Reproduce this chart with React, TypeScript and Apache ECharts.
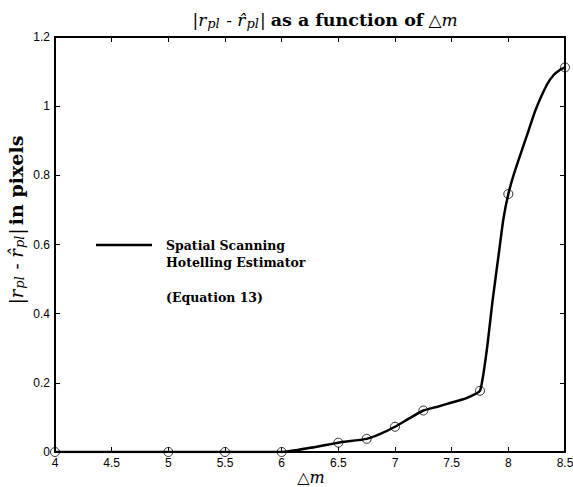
import React, { useEffect, useRef } from "react";
import * as echarts from "echarts";

const curveX = [4, 4.5, 5, 5.5, 6, 6.25, 6.5, 6.75, 6.875, 7, 7.125, 7.25, 7.375, 7.5, 7.625, 7.75, 7.81, 7.862, 7.92, 7.955, 8, 8.06, 8.18, 8.24, 8.34, 8.4, 8.46, 8.5];
const curveY = [0, 0, 0, 0, 0, 0.012, 0.027, 0.038, 0.053, 0.073, 0.097, 0.12, 0.131, 0.143, 0.155, 0.177, 0.295, 0.44, 0.584, 0.671, 0.746, 0.815, 0.931, 0.989, 1.062, 1.09, 1.106, 1.112];
const markerX = [4, 5, 5.5, 6, 6.5, 6.75, 7, 7.25, 7.75, 8, 8.5];
const markerY = [0, 0, 0, 0, 0.027, 0.038, 0.073, 0.12, 0.177, 0.746, 1.112];
const legendLines = ["Spatial Scanning", "Hotelling Estimator", "", "(Equation 13)"];

const serif = "DejaVu Serif";
const sans = "Liberation Sans";

export default function App() {
  const ref = useRef<HTMLDivElement>(null);
  useEffect(() => {
    const chart = echarts.init(ref.current!, null, { renderer: "svg" });
    const mk = (size: number, sub: number, bold: number, subPad: number) => ({
      n: { fontFamily: serif, fontWeight: "normal", fontSize: size, color: "#000" },
      i: { fontFamily: serif, fontWeight: "normal", fontStyle: "italic", fontSize: size, color: "#000" },
      s: { fontFamily: serif, fontWeight: "normal", fontStyle: "italic", fontSize: sub, color: "#000", padding: [subPad, 1, 0, 1] },
      b: { fontFamily: serif, fontWeight: "bold", fontSize: bold, color: "#000" },
    });
    const axisCommon = {
      axisLine: { show: true, onZero: false, lineStyle: { color: "#000", width: 2 } },
      axisTick: { show: true, inside: true, length: 5, lineStyle: { color: "#000", width: 1 } },
      splitLine: { show: false },
    };
    chart.setOption({
      animation: false,
      backgroundColor: "#fff",
      title: {
        text: "{n||}{i|r}{s|pl}{n| - }{i|r̂}{s|pl}{n||} {b|as a function of} {n|△}{i|m}",
        left: 320,
        textAlign: "center",
        top: 5,
        textStyle: { rich: mk(17, 13, 17.5, 7) },
      },
      grid: { left: 55, right: 8, top: 37, bottom: 35, containLabel: false, outerBoundsMode: "none" },
      xAxis: [
        {
          type: "value",
          min: 4,
          max: 8.5,
          interval: 0.5,
          position: "bottom",
          ...axisCommon,
          axisLabel: { color: "#000", fontFamily: sans, fontSize: 12, margin: 5 },
        },
        {
          type: "value",
          min: 4,
          max: 8.5,
          interval: 0.5,
          position: "top",
          ...axisCommon,
          axisLabel: { show: false },
        },
      ],
      yAxis: [
        {
          type: "value",
          min: 0,
          max: 1.2,
          interval: 0.2,
          position: "left",
          ...axisCommon,
          axisLabel: { color: "#000", fontFamily: sans, fontSize: 12, margin: 5 },
        },
        {
          type: "value",
          min: 0,
          max: 1.2,
          interval: 0.2,
          position: "right",
          ...axisCommon,
          axisLabel: { show: false },
        },
      ],
      series: [
        {
          type: "line",
          data: curveX.map((x, k) => [x, curveY[k]]),
          smooth: 0.15,
          showSymbol: false,
          lineStyle: { color: "#000", width: 2.5 },
          z: 3,
        },
        {
          type: "scatter",
          data: markerX.map((x, k) => [x, markerY[k]]),
          symbol: "circle",
          symbolSize: 9,
          itemStyle: { color: "transparent", borderColor: "#000", borderWidth: 1 },
          z: 4,
        },
      ],
      graphic: [
        {
          type: "text",
          x: 16,
          y: 220,
          rotation: Math.PI / 2,
          style: {
            text: "{n||}{i|r}{s|pl}{n| - }{i|r̂}{s|pl}{n||} {b|in pixels}",
            align: "center",
            verticalAlign: "middle",
            rich: mk(18, 13, 19, 7),
          },
        },
        {
          type: "text",
          x: 311,
          y: 477,
          style: {
            text: "{n|△}{i|m}",
            align: "center",
            verticalAlign: "middle",
            rich: {
              n: { fontFamily: serif, fontSize: 16, lineHeight: 16, fill: "#000" },
              i: { fontFamily: serif, fontStyle: "italic", fontSize: 16, lineHeight: 16, fill: "#000" },
            },
          },
        },
        { type: "line", shape: { x1: 96, y1: 245, x2: 152, y2: 245 }, style: { stroke: "#000", lineWidth: 2.5 } },
        ...legendLines.map((t, k) => ({
          type: "text",
          x: 166,
          y: 245 + k * 17.5,
          style: { text: t, fontFamily: serif, fontWeight: "bold", fontSize: 12.5, fill: "#000", verticalAlign: "middle" },
        })),
      ],
    });
    return () => chart.dispose();
  }, []);
  return <div ref={ref} style={{ position: "fixed", left: 0, top: 0, width: 573, height: 487 }} />;
}
